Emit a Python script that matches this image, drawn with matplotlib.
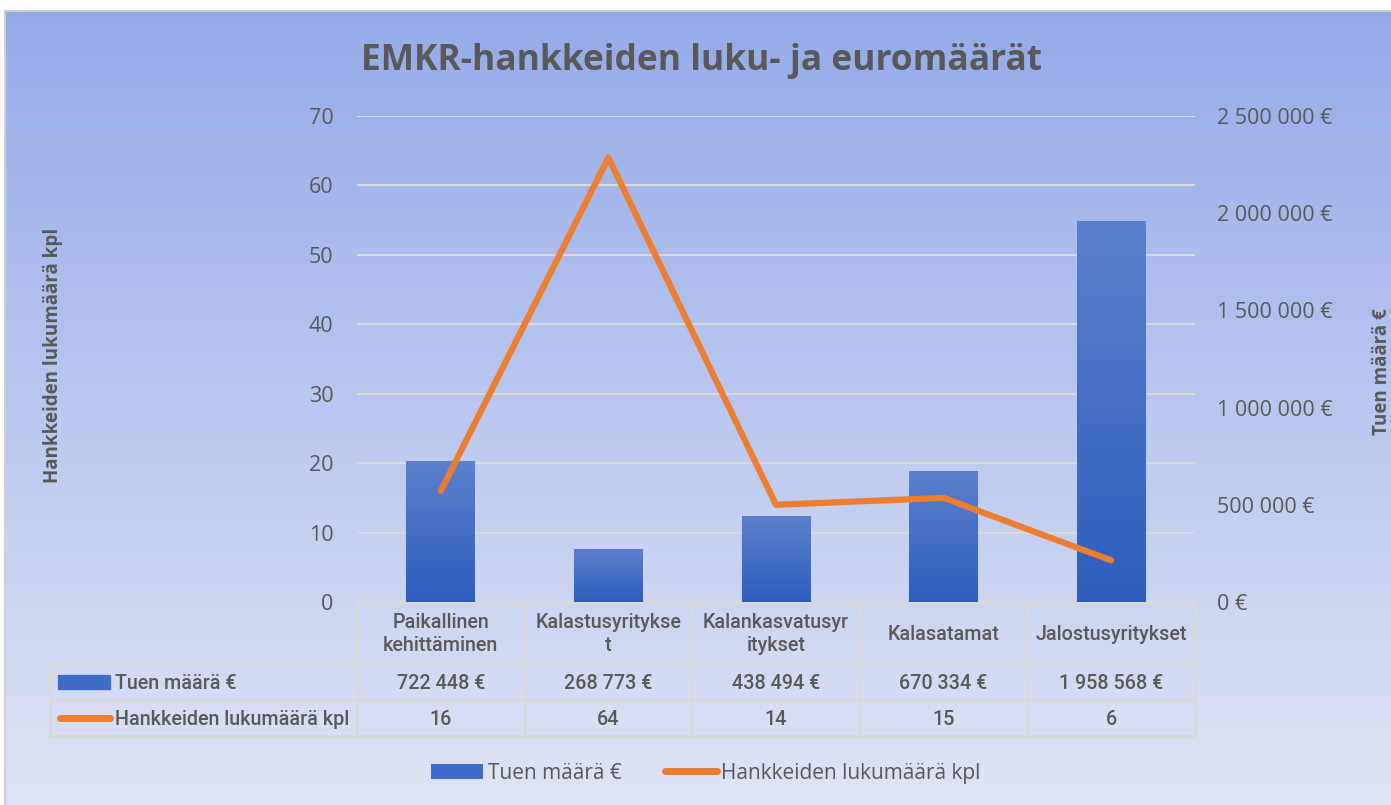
import matplotlib
matplotlib.use('Agg')
import matplotlib.pyplot as plt
import numpy as np
from matplotlib.patches import Patch, Rectangle
from matplotlib.lines import Line2D
from matplotlib.ticker import FuncFormatter, MultipleLocator
from matplotlib.transforms import blended_transform_factory
from matplotlib.colors import LinearSegmentedColormap

# data
categories = ['Paikallinen kehittäminen', 'Kalastusyritykset', 'Kalankasvatusyritykset',
              'Kalasatamat', 'Jalostusyritykset']
header_labels = ['Paikallinen\nkehittäminen', 'Kalastusyritykse\nt', 'Kalankasvatusyr\nitykset',
                 'Kalasatamat', 'Jalostusyritykset']
tuki = [722448, 268773, 438494, 670334, 1958568]
hankkeet = [16, 64, 14, 15, 6]
title = 'EMKR-hankkeiden luku- ja euromäärät'

TEXT = '#595959'
GRIDC = '#d9d9d9'
ORANGE = '#ed7d31'
TABLE_FONT = ['Roboto', 'DejaVu Sans']
TABLE_SIZE = 14.2

plt.rcParams['font.family'] = ['Open Sans', 'DejaVu Sans']


def eur(v, pos=None):
    return f'{int(round(v)):,}'.replace(',', ' ') + ' €'


W, H = 1391, 805
fig = plt.figure(figsize=(W / 100, H / 100), dpi=100)


def fx(px):
    return px / W


def fy(py):
    return 1 - py / H


# background gradient + border
bg = fig.add_axes([0, 0, 1, 1], zorder=-10)
bg.set_axis_off()
grad = np.linspace(0, 1, 256).reshape(-1, 1)
cmap_bg = LinearSegmentedColormap.from_list('bg', ['#94abe8', '#dfe4f6'])
bg.imshow(grad, cmap=cmap_bg, extent=[6, W, H, 12], aspect='auto')
bg.plot([5, 5, W], [H, 11, 11], color='#d0d0d0', lw=1.5)
bg.set_xlim(0, W)
bg.set_ylim(H, 0)

# main axes (count, left)
ax = fig.add_axes([fx(357), fy(602), fx(1195) - fx(357), fy(116) - fy(602)])
ax.patch.set_visible(False)
ax.set_xlim(-0.5, len(categories) - 0.5)
ax.set_ylim(0, 70)
ax.yaxis.set_major_locator(MultipleLocator(10))
ax.grid(axis='y', color=GRIDC, lw=1.5)
ax.set_axisbelow(True)
ax.set_xticks([])
ax.tick_params(axis='y', length=0, pad=17, labelsize=15.5, labelcolor=TEXT)
for s in ax.spines.values():
    s.set_visible(False)

# euro axis (right)
ax2 = ax.twinx()
x = np.arange(len(categories))
cmap_bar = LinearSegmentedColormap.from_list('bar', ['#5b80cd', '#2e5dbd'])
bars = ax2.bar(x, tuki, width=0.41, color='none', zorder=2)
for b in bars:
    x0, w, h = b.get_x(), b.get_width(), b.get_height()
    ax2.imshow(grad, cmap=cmap_bar, extent=[x0, x0 + w, 0, h], aspect='auto', zorder=2)
ax2.plot(x, hankkeet, transform=ax.transData, color=ORANGE, lw=4.5,
         solid_capstyle='round', solid_joinstyle='round', zorder=5)
ax2.set_xlim(-0.5, len(categories) - 0.5)
ax2.set_ylim(0, 2500000)
ax2.yaxis.set_major_locator(MultipleLocator(500000))
ax2.yaxis.set_major_formatter(FuncFormatter(eur))
ax2.tick_params(axis='y', length=0, pad=16, labelsize=15.5, labelcolor=TEXT)
for s in ax2.spines.values():
    s.set_visible(False)

# titles
fig.text(fx(702), fy(61), title, ha='center', va='center', fontsize=25.5,
         fontweight='bold', color=TEXT)
fig.text(fx(53), fy(355), 'Hankkeiden lukumäärä kpl', rotation=90, ha='center',
         va='center', fontsize=13.5, fontweight='bold', color=TEXT)
fig.text(fx(1382), fy(372), 'Tuen määrä €', rotation=90, ha='center',
         va='center', fontsize=13.5, fontweight='bold', color=TEXT)

# data table under the plot
tr_ax = blended_transform_factory(ax.transAxes, fig.transFigure)
tr_dat = blended_transform_factory(ax.transData, fig.transFigure)
left_frac = (50 - 357) / (1195 - 357)
y_top, y1, y2, y3 = fy(603), fy(664), fy(700), fy(736)
n = len(categories)
lines = [([0, 1], [y_top, y_top]), ([left_frac, 1], [y1, y1]),
         ([left_frac, 1], [y2, y2]), ([left_frac, 1], [y3, y3]),
         ([left_frac, left_frac], [y1, y3])]
for i in range(n + 1):
    lines.append(([i / n, i / n], [y_top, y3]))
for xs, ys in lines:
    fig.add_artist(Line2D(xs, ys, transform=tr_ax, color=GRIDC, lw=2))

for i in range(n):
    fig.text(i, fy(634), header_labels[i], transform=tr_dat, ha='center', va='center',
             fontsize=TABLE_SIZE, color=TEXT, family=TABLE_FONT, fontweight=500,
             linespacing=1.3)
    fig.text(i, fy(683), eur(tuki[i]), transform=tr_dat, ha='center', va='center',
             fontsize=TABLE_SIZE, color=TEXT, family=TABLE_FONT, fontweight=500)
    fig.text(i, fy(719), str(hankkeet[i]), transform=tr_dat, ha='center', va='center',
             fontsize=TABLE_SIZE, color=TEXT, family=TABLE_FONT, fontweight=500)

fig.add_artist(Rectangle((fx(58), fy(689)), fx(110) - fx(58), fy(675) - fy(689),
                         transform=fig.transFigure, color='#3f6cc6'))
fig.add_artist(Line2D([fx(60), fx(110)], [fy(718), fy(718)], transform=fig.transFigure,
                      color=ORANGE, lw=5, solid_capstyle='round'))
fig.text(fx(115), fy(683), 'Tuen määrä €', ha='left', va='center', fontsize=TABLE_SIZE,
         color=TEXT, family=TABLE_FONT, fontweight=500)
fig.text(fx(115), fy(719), 'Hankkeiden lukumäärä kpl', ha='left', va='center',
         fontsize=TABLE_SIZE, color=TEXT, family=TABLE_FONT, fontweight=500)

# legend
handles = [Patch(facecolor='#3f6cc6'),
           Line2D([], [], color=ORANGE, lw=5, solid_capstyle='round')]
fig.legend(handles, ['Tuen määrä €', 'Hankkeiden lukumäärä kpl'], loc='center',
           bbox_to_anchor=(fx(706), fy(773)), ncol=2, frameon=False, fontsize=15,
           handlelength=2.5, handleheight=0.7, handletextpad=0.2, columnspacing=2.1,
           labelcolor=TEXT)

fig.savefig('out.png', dpi=100)
